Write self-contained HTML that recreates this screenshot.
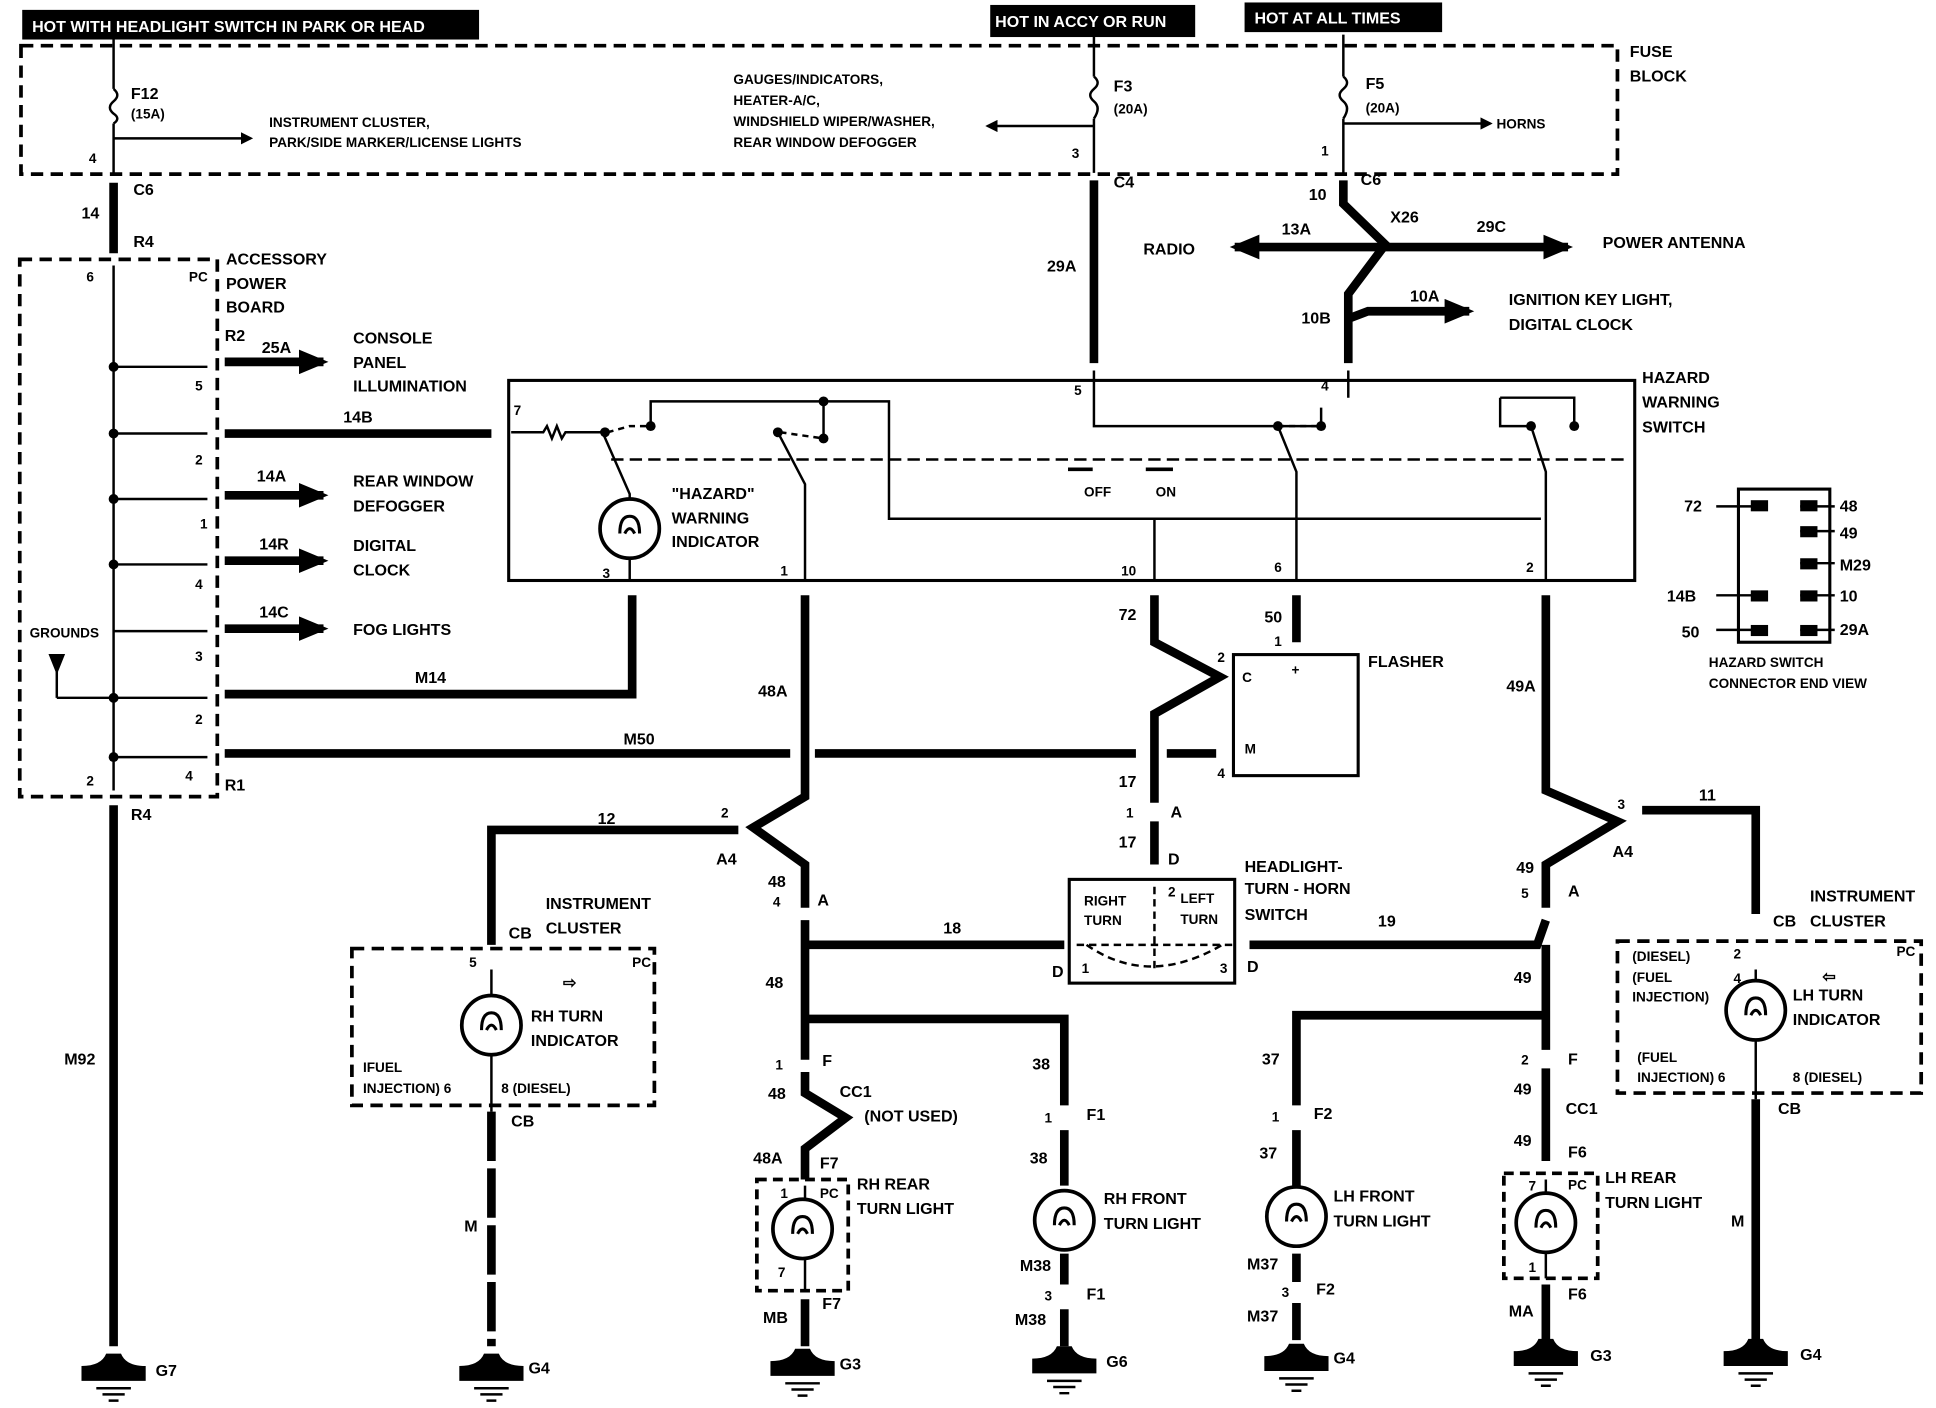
<!DOCTYPE html>
<html><head><meta charset="utf-8"><style>
html,body{margin:0;padding:0;background:#fff}
svg{display:block}
text{font-family:"Liberation Sans",sans-serif;font-weight:bold;font-size:13px;fill:#000}
.s{font-size:11px}
.w{fill:#fff}
</style></head><body>
<svg width="1936" height="1408" viewBox="0 0 1568 1140" preserveAspectRatio="none" xmlns="http://www.w3.org/2000/svg">
<defs>
<marker id="ah" markerWidth="10" markerHeight="10" refX="8" refY="5" orient="auto" markerUnits="userSpaceOnUse"><path d="M0,0 L10,5 L0,10 z"/></marker>
<marker id="bh" markerWidth="26" markerHeight="20" refX="20" refY="10" orient="auto" markerUnits="userSpaceOnUse"><path d="M0,0 L24,10 L0,20 z"/></marker>
<g id="gnd"><path d="M-26,18 L-26,6 Q-10,6 -6,-4 L6,-4 Q10,6 26,6 L26,18 Z"/><path d="M-14,24 H14 M-9,29 H9 M-4,34 H4" stroke="#000" stroke-width="2"/></g>
<g id="bulb"><circle r="24" fill="#fff" stroke="#000" stroke-width="3"/><path d="M-8,4 Q-8,-10 0,-10 Q8,-10 8,4 M-4,4 Q0,-4 4,4" fill="none" stroke="#000" stroke-width="2.5"/></g>
</defs>
<g fill="none" stroke="#000">
<rect x="17" y="37" width="1293" height="104" stroke-width="3" stroke-dasharray="10,6"/>
<path d="M92,30 V72 M92,100 V140 M886,30 V62 M886,96 V140 M1088,28 V62 M1088,96 V140" stroke-width="2"/>
<path d="M92,72 q6,5 0,10 q-6,5 0,10 q6,4 0,8 M886,62 q6,5 0,10 q-6,5 0,10 q6,5 0,14 M1088,62 q6,5 0,10 q-6,5 0,10 q6,5 0,14" stroke-width="2"/>
<path d="M92,112 H203" stroke-width="2" marker-end="url(#ah)"/>
<path d="M886,102 H800" stroke-width="2" marker-end="url(#ah)"/>
<path d="M1088,100 H1207" stroke-width="2" marker-end="url(#ah)"/>
<g stroke-width="7">
<path d="M92,148 V205"/>
<path d="M886,146 V294"/>
<path d="M1088,146 V165 L1122,198 L1092,238 V294"/>
<path d="M1092,258 L1108,252 H1190" marker-end="url(#bh)"/>
<path d="M1118,200 H1270" marker-end="url(#bh)"/>
<path d="M1118,200 H1000" marker-end="url(#bh)"/>
<path d="M182,293 H262" marker-end="url(#bh)"/>
<path d="M182,351 H398"/>
<path d="M182,401 H262" marker-end="url(#bh)"/>
<path d="M182,454 H262" marker-end="url(#bh)"/>
<path d="M182,509 H262" marker-end="url(#bh)"/>
<path d="M182,562 H512 V482"/>
<path d="M182,610 H640 M660,610 H920 M945,610 H985"/>
<path d="M92,652 V1090"/>
<path d="M652,482 V645 L610,670 L652,700 V735"/>
<path d="M598,672 H398 V765"/>
<path d="M652,745 V765 H862 M652,765 V858"/>
<path d="M652,825 H862 V895 M862,915 V960 M862,1015 V1040 M862,1060 V1090"/>
<path d="M652,868 V885 L685,905 L652,930 V955"/>
<path d="M652,1052 V1090"/>
<path d="M935,482 V520 L988,548 L935,578 V650 M935,665 V700"/>
<path d="M1050,482 V520"/>
<path d="M1252,482 V640 L1310,665 L1252,700 V735 M1252,745 L1245,765 H1012"/>
<path d="M1330,656 H1422 V740"/>
<path d="M1252,765 V850 M1252,865 V940 M1252,822 H1050 V895 M1050,915 V960 M1050,1015 V1038 M1050,1055 V1085"/>
<path d="M1252,1040 V1088"/>
<path d="M1422,890 V1085"/>
<path d="M398,900 V1090" stroke-dasharray="40,6"/>
</g>
<rect x="16" y="210" width="160" height="435" stroke-width="3" stroke-dasharray="10,6"/>
<path d="M92,215 V640 M92,297 H168 M92,351 H168 M92,404 H168 M92,457 H168 M92,511 H168 M46,565 H168 M92,565 V613 M92,613 H168 M46,530 V565" stroke-width="2"/>
<path d="M40,530 H52 L46,545 Z" fill="#000"/>
<rect x="412" y="308" width="912" height="162" stroke-width="2.5"/>
<path d="M414,350 H440 l3,-5 l4,10 l4,-10 l4,10 l3,-5 H488 L510,400 V470" stroke-width="2"/>
<path d="M527,343 V325 H720 V420 H1248 M667,325 V355 M630,350 L652,392 V470" stroke-width="2"/>
<path d="M886,300 V345 H1070 V330 M1092,300 V322 M1035,345 L1050,382 V470 M935,420 V470 M1240,345 L1252,382 V470 M1215,322 V345 H1240 M1215,322 H1275 V345" stroke-width="2"/>
<path d="M492,350 L510,345 L527,345 M632,350 L667,355 M1035,345 L1070,345" stroke-width="2" stroke-dasharray="5,4"/>
<path d="M495,372 H1320" stroke-width="2" stroke-dasharray="10,5"/>
<path d="M885,380 H865 M928,380 H950" stroke-width="3"/>
<rect x="999" y="530" width="101" height="98" stroke-width="2.5"/>
<rect x="866" y="712" width="134" height="84" stroke-width="2.5"/>
<path d="M935,718 V785 M872,765 H998 M880,765 Q930,800 990,765" stroke-width="2" stroke-dasharray="6,4"/>
<rect x="285" y="768" width="245" height="127" stroke-width="3" stroke-dasharray="10,6"/>
<rect x="1310" y="762" width="246" height="123" stroke-width="3" stroke-dasharray="10,6"/>
<rect x="613" y="955" width="74" height="90" stroke-width="3" stroke-dasharray="8,5"/>
<rect x="1218" y="950" width="76" height="85" stroke-width="3" stroke-dasharray="8,5"/>
<path d="M398,785 V900 M1422,785 V890 M652,960 V1045 M1252,955 V1035" stroke-width="2"/>
<rect x="1408" y="396" width="74" height="124" stroke-width="2.5"/>
<path d="M1390,410 H1430 M1458,410 H1486 M1458,430 H1486 M1458,456 H1486 M1458,482 H1486 M1390,482 H1430 M1390,510 H1430 M1458,510 H1486" stroke-width="2"/>
</g>
<g fill="#000">
<rect x="1418" y="405" width="14" height="9"/><rect x="1458" y="405" width="14" height="9"/><rect x="1458" y="426" width="14" height="9"/><rect x="1458" y="452" width="14" height="9"/><rect x="1418" y="478" width="14" height="9"/><rect x="1458" y="478" width="14" height="9"/><rect x="1418" y="506" width="14" height="9"/><rect x="1458" y="506" width="14" height="9"/>
<circle cx="527" cy="345" r="4"/><circle cx="490" cy="350" r="4"/><circle cx="667" cy="325" r="4"/><circle cx="667" cy="355" r="4"/><circle cx="630" cy="350" r="4"/><circle cx="1070" cy="345" r="4"/><circle cx="1035" cy="345" r="4"/><circle cx="1275" cy="345" r="4"/><circle cx="1240" cy="345" r="4"/>
<circle cx="92" cy="297" r="4"/><circle cx="92" cy="351" r="4"/><circle cx="92" cy="404" r="4"/><circle cx="92" cy="457" r="4"/><circle cx="92" cy="565" r="4"/><circle cx="92" cy="613" r="4"/>
<rect x="18" y="8" width="370" height="24"/><rect x="802" y="4" width="166" height="26"/><rect x="1008" y="2" width="160" height="24"/>
</g>
<use href="#bulb" x="510" y="428"/><use href="#bulb" x="398" y="830"/><use href="#bulb" x="1422" y="818"/>
<use href="#bulb" x="650" y="995"/><use href="#bulb" x="862" y="988"/><use href="#bulb" x="1050" y="985"/><use href="#bulb" x="1252" y="990"/>
<use href="#gnd" x="92" y="1100"/><use href="#gnd" x="398" y="1100"/><use href="#gnd" x="650" y="1096"/><use href="#gnd" x="862" y="1094"/><use href="#gnd" x="1050" y="1092"/><use href="#gnd" x="1252" y="1088"/><use href="#gnd" x="1422" y="1088"/>
<text x="26" y="26" class="w">HOT WITH HEADLIGHT SWITCH IN PARK OR HEAD</text>
<text x="806" y="22" class="w">HOT IN ACCY OR RUN</text>
<text x="1016" y="19" class="w">HOT AT ALL TIMES</text>
<text x="1320" y="46">FUSE</text><text x="1320" y="66">BLOCK</text>
<text x="106" y="80">F12</text><text x="106" y="96" class="s">(15A)</text><text x="72" y="132" class="s">4</text>
<text x="218" y="103" class="s">INSTRUMENT CLUSTER,</text><text x="218" y="119" class="s">PARK/SIDE MARKER/LICENSE LIGHTS</text>
<text x="902" y="74">F3</text><text x="902" y="92" class="s">(20A)</text><text x="868" y="128" class="s">3</text>
<text x="594" y="68" class="s">GAUGES/INDICATORS,</text><text x="594" y="85" class="s">HEATER-A/C,</text><text x="594" y="102" class="s">WINDSHIELD WIPER/WASHER,</text><text x="594" y="119" class="s">REAR WINDOW DEFOGGER</text>
<text x="1106" y="72">F5</text><text x="1106" y="91" class="s">(20A)</text><text x="1070" y="126" class="s">1</text><text x="1212" y="104" class="s">HORNS</text>
<text x="108" y="158">C6</text><text x="66" y="177">14</text><text x="108" y="200">R4</text>
<text x="902" y="152">C4</text><text x="1060" y="162">10</text><text x="1102" y="150">C6</text>
<text x="848" y="220">29A</text><text x="1126" y="180">X26</text><text x="1038" y="190">13A</text><text x="1196" y="188">29C</text>
<text x="926" y="206">RADIO</text><text x="1298" y="201">POWER ANTENNA</text>
<text x="1142" y="244">10A</text><text x="1054" y="262">10B</text>
<text x="1222" y="247">IGNITION KEY LIGHT,</text><text x="1222" y="267">DIGITAL CLOCK</text>
<text x="183" y="214">ACCESSORY</text><text x="183" y="234">POWER</text><text x="183" y="253">BOARD</text>
<text x="153" y="228" class="s">PC</text><text x="70" y="228" class="s">6</text><text x="182" y="276">R2</text>
<text x="212" y="286">25A</text><text x="286" y="278">CONSOLE</text><text x="286" y="298">PANEL</text><text x="286" y="317">ILLUMINATION</text>
<text x="278" y="342">14B</text><text x="208" y="390">14A</text><text x="286" y="394">REAR WINDOW</text><text x="286" y="414">DEFOGGER</text>
<text x="210" y="445">14R</text><text x="286" y="446">DIGITAL</text><text x="286" y="466">CLOCK</text>
<text x="210" y="500">14C</text><text x="286" y="514">FOG LIGHTS</text>
<text x="24" y="516" class="s">GROUNDS</text><text x="336" y="553">M14</text><text x="505" y="603">M50</text>
<text x="158" y="316" class="s">5</text><text x="158" y="376" class="s">2</text><text x="162" y="428" class="s">1</text><text x="158" y="477" class="s">4</text><text x="158" y="535" class="s">3</text><text x="158" y="586" class="s">2</text><text x="150" y="632" class="s">4</text><text x="70" y="636" class="s">2</text>
<text x="182" y="640">R1</text><text x="106" y="664">R4</text><text x="52" y="862">M92</text>
<text x="416" y="336" class="s">7</text><text x="870" y="320" class="s">5</text><text x="1070" y="316" class="s">4</text>
<text x="1330" y="310">HAZARD</text><text x="1330" y="330">WARNING</text><text x="1330" y="350">SWITCH</text>
<text x="544" y="404">"HAZARD"</text><text x="544" y="424">WARNING</text><text x="544" y="443">INDICATOR</text>
<text x="878" y="402" class="s">OFF</text><text x="936" y="402" class="s">ON</text>
<text x="488" y="468" class="s">3</text><text x="632" y="466" class="s">1</text><text x="908" y="466" class="s">10</text><text x="1032" y="463" class="s">6</text><text x="1236" y="463" class="s">2</text>
<text x="1364" y="414">72</text><text x="1490" y="414">48</text><text x="1490" y="436">49</text><text x="1490" y="462">M29</text><text x="1350" y="487">14B</text><text x="1490" y="487">10</text><text x="1362" y="516">50</text><text x="1490" y="514">29A</text>
<text x="1384" y="540" class="s">HAZARD SWITCH</text><text x="1384" y="557" class="s">CONNECTOR END VIEW</text>
<text x="906" y="502">72</text><text x="1024" y="504">50</text><text x="1032" y="523" class="s">1</text>
<text x="986" y="536" class="s">2</text><text x="1006" y="552" class="s">C</text><text x="1046" y="546" class="s">+</text><text x="1008" y="610" class="s">M</text><text x="986" y="630" class="s">4</text>
<text x="1108" y="540">FLASHER</text>
<text x="614" y="564">48A</text><text x="1220" y="560">49A</text>
<text x="906" y="637">17</text><text x="912" y="662" class="s">1</text><text x="948" y="662">A</text><text x="906" y="686">17</text><text x="946" y="700">D</text>
<text x="878" y="733" class="s">RIGHT</text><text x="878" y="749" class="s">TURN</text><text x="946" y="726" class="s">2</text><text x="956" y="731" class="s">LEFT</text><text x="956" y="748" class="s">TURN</text>
<text x="876" y="788" class="s">1</text><text x="988" y="788" class="s">3</text><text x="852" y="791">D</text><text x="1010" y="787">D</text>
<text x="1008" y="706">HEADLIGHT-</text><text x="1008" y="724">TURN - HORN</text><text x="1008" y="745">SWITCH</text>
<text x="764" y="756">18</text><text x="1116" y="750">19</text>
<text x="484" y="667">12</text><text x="584" y="662" class="s">2</text><text x="580" y="700">A4</text><text x="622" y="718">48</text><text x="626" y="734" class="s">4</text><text x="662" y="733">A</text>
<text x="442" y="736">INSTRUMENT</text><text x="442" y="756">CLUSTER</text><text x="412" y="760">CB</text>
<text x="380" y="783" class="s">5</text><text x="512" y="783" class="s">PC</text><text x="456" y="800">⇨</text>
<text x="430" y="827">RH TURN</text><text x="430" y="847">INDICATOR</text>
<text x="294" y="868" class="s">IFUEL</text><text x="294" y="885" class="s">INJECTION) 6</text><text x="406" y="885" class="s">8 (DIESEL)</text><text x="414" y="912">CB</text><text x="376" y="997">M</text>
<text x="620" y="800">48</text><text x="628" y="866" class="s">1</text><text x="666" y="863">F</text><text x="836" y="866">38</text>
<text x="622" y="890">48</text><text x="680" y="888">CC1</text><text x="700" y="908">(NOT USED)</text>
<text x="610" y="942">48A</text><text x="664" y="946">F7</text><text x="632" y="970" class="s">1</text><text x="664" y="970" class="s">PC</text>
<text x="694" y="963">RH REAR</text><text x="694" y="983">TURN LIGHT</text><text x="630" y="1034" class="s">7</text><text x="666" y="1060">F7</text><text x="618" y="1071">MB</text><text x="680" y="1109">G3</text>
<text x="846" y="909" class="s">1</text><text x="880" y="907">F1</text><text x="834" y="942">38</text><text x="894" y="975">RH FRONT</text><text x="894" y="995">TURN LIGHT</text>
<text x="826" y="1029">M38</text><text x="846" y="1053" class="s">3</text><text x="880" y="1052">F1</text><text x="822" y="1073">M38</text><text x="896" y="1107">G6</text>
<text x="1022" y="862">37</text><text x="1030" y="908" class="s">1</text><text x="1064" y="906">F2</text><text x="1020" y="938">37</text>
<text x="1080" y="973">LH FRONT</text><text x="1080" y="993">TURN LIGHT</text><text x="1010" y="1028">M37</text><text x="1038" y="1050" class="s">3</text><text x="1066" y="1048">F2</text><text x="1010" y="1070">M37</text><text x="1080" y="1104">G4</text>
<text x="428" y="1112">G4</text><text x="126" y="1114">G7</text>
<text x="1376" y="648">11</text><text x="1310" y="655" class="s">3</text><text x="1306" y="694">A4</text><text x="1228" y="707">49</text><text x="1232" y="727" class="s">5</text><text x="1270" y="726">A</text>
<text x="1226" y="796">49</text><text x="1232" y="862" class="s">2</text><text x="1270" y="862">F</text><text x="1226" y="886">49</text><text x="1268" y="902">CC1</text><text x="1226" y="928">49</text><text x="1270" y="937">F6</text>
<text x="1238" y="964" class="s">7</text><text x="1270" y="963" class="s">PC</text><text x="1300" y="958">LH REAR</text><text x="1300" y="978">TURN LIGHT</text><text x="1238" y="1030" class="s">1</text>
<text x="1270" y="1052">F6</text><text x="1222" y="1066">MA</text><text x="1288" y="1102">G3</text><text x="1458" y="1101">G4</text><text x="1402" y="993">M</text>
<text x="1466" y="730">INSTRUMENT</text><text x="1466" y="750">CLUSTER</text><text x="1436" y="750">CB</text>
<text x="1322" y="778" class="s">(DIESEL)</text><text x="1404" y="776" class="s">2</text><text x="1536" y="774" class="s">PC</text>
<text x="1322" y="795" class="s">(FUEL</text><text x="1404" y="796" class="s">4</text><text x="1322" y="811" class="s">INJECTION)</text><text x="1476" y="795">⇦</text>
<text x="1452" y="810">LH TURN</text><text x="1452" y="830">INDICATOR</text>
<text x="1326" y="860" class="s">(FUEL</text><text x="1326" y="876" class="s">INJECTION) 6</text><text x="1452" y="876" class="s">8 (DIESEL)</text><text x="1440" y="902">CB</text>
</svg>
</body></html>
